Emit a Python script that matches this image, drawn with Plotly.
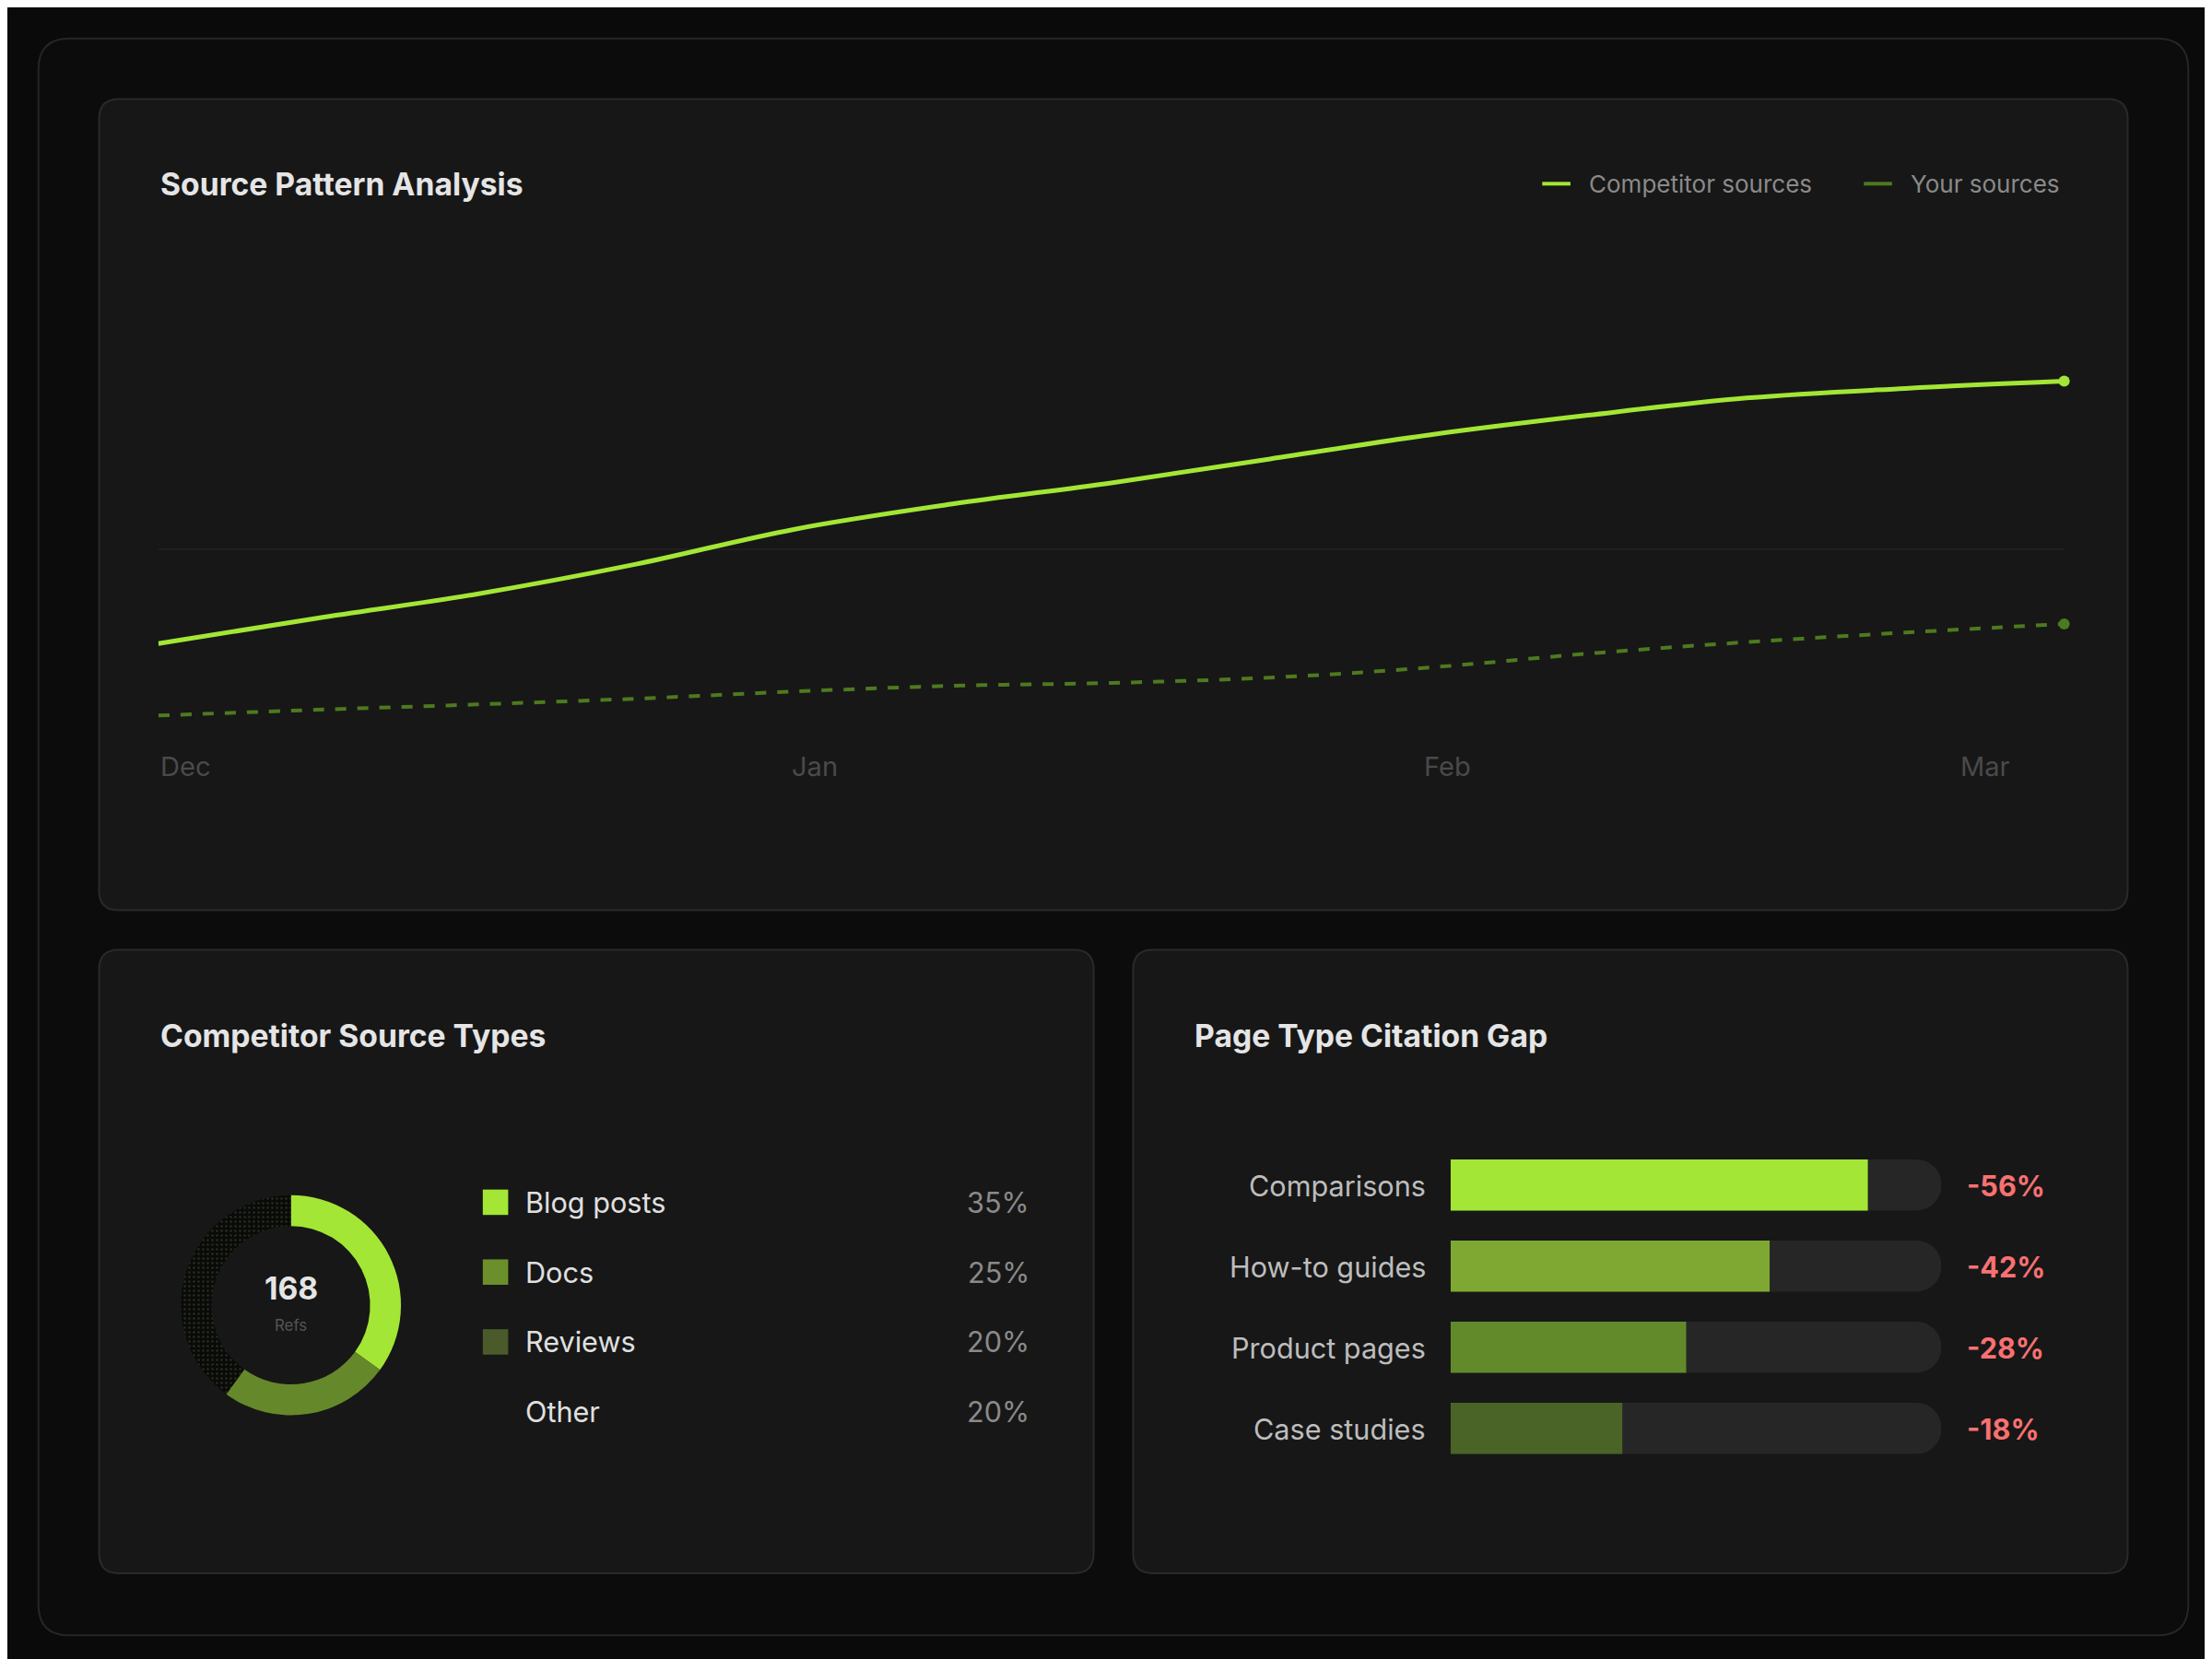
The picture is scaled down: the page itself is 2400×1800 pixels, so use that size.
import plotly.graph_objects as go

S = 2400/1568
W, H = 2400, 1800

# ---- data ----
line_x = list(range(13))
competitor = [20.3, 25.6, 30.6, 36.8, 44.1, 49.4, 53.8, 58.8, 63.8, 67.9, 71.5, 73.5, 75.0]
yours = [5.3, 6.5, 7.6, 8.8, 10.3, 11.5, 12.1, 13.2, 15.3, 18.2, 20.6, 22.6, 24.4]
month_labels = ["Dec", "Jan", "Feb", "Mar"]
month_pos = [107, 572, 1021, 1421]  # displayed px, label anchor

src_types = ["Blog posts", "Docs", "Reviews", "Other"]
src_pct = [35, 25, 20, 20]
total_refs = 168

page_types = ["Comparisons", "How-to guides", "Product pages", "Case studies"]
page_fill = [85, 65, 48, 35]
page_gap = ["-56%", "-42%", "-28%", "-18%"]

FONT = "Inter"
def px(v): return v*S/W
def py(v): return 1 - v*S/H

fig = go.Figure()
shapes = []
ann = []

def rrect(x0, y0, x1, y1, r, fill, line):
    X = lambda v: v*S/W
    Y = lambda v: 1 - v*S/H
    rx, ry = r*S/W, r*S/H
    a, b, c, d = X(x0), Y(y0), X(x1), Y(y1)
    path = (f"M{a+rx},{b} L{c-rx},{b} Q{c},{b} {c},{b-ry} "
            f"L{c},{d+ry} Q{c},{d} {c-rx},{d} L{a+rx},{d} "
            f"Q{a},{d} {a},{d+ry} L{a},{b-ry} Q{a},{b} {a+rx},{b} Z")
    shapes.append(dict(type="path", path=path, xref="paper", yref="paper",
                       fillcolor=fill, line=dict(color=line, width=2), layer="below"))

rrect(22, 22, 1546, 1154, 22, "#0c0c0c", "#262626")
rrect(65, 65, 1503, 640, 14, "#171717", "#2a2a2a")
rrect(65, 668, 770, 1110, 14, "#171717", "#2a2a2a")
rrect(798, 668, 1503, 1110, 14, "#171717", "#2a2a2a")

def text(x, y, t, size, color, anchor="left", bold=False):
    ann.append(dict(x=px(x), y=py(y), xref="paper", yref="paper", text=f"<b>{t}</b>" if bold else t,
                    showarrow=False, xanchor=anchor, yanchor="middle",
                    font=dict(family=FONT, size=size*S, color=color)))

# ---- line chart ----
text(107, 125, "Source Pattern Analysis", 22, "#e5e5e5", bold=True)
shapes.append(dict(type="line", xref="paper", yref="paper", x0=px(1088), x1=px(1108), y0=py(125), y1=py(125),
                   line=dict(color="#a3e635", width=4)))
text(1120, 125, "Competitor sources", 17, "#8a8a8a")
shapes.append(dict(type="line", xref="paper", yref="paper", x0=px(1316), x1=px(1336), y0=py(125), y1=py(125),
                   line=dict(color="#4d7a1f", width=4)))
text(1348, 125, "Your sources", 17, "#8a8a8a")
for lab, p in zip(month_labels, month_pos):
    text(p, 538, lab, 19, "#4a4a4a", anchor="right" if lab == "Mar" else ("left" if lab == "Dec" else "center"))

fig.add_trace(go.Scatter(x=line_x, y=yours, mode="lines", line=dict(color="#4d7a1f", width=4, dash="dash", shape="spline"),
                         showlegend=False, hoverinfo="skip"))
fig.add_trace(go.Scatter(x=line_x, y=competitor, mode="lines", line=dict(color="#a3e635", width=5, shape="spline"),
                         showlegend=False, hoverinfo="skip"))
fig.add_trace(go.Scatter(x=[line_x[-1], line_x[-1]], y=[competitor[-1], yours[-1]], mode="markers",
                         marker=dict(color=["#a3e635", "#4d7a1f"], size=12), showlegend=False, hoverinfo="skip",
                         cliponaxis=False))
fig.update_layout(
    xaxis=dict(domain=[px(107), px(1458)], range=[0, 12], visible=False, fixedrange=True),
    yaxis=dict(domain=[py(520), py(180)], range=[0, 100], tickvals=[40], showticklabels=False,
               gridcolor="#1f1f1f", gridwidth=2, zeroline=False, showline=False, fixedrange=True))

# ---- donut ----
text(107, 729, "Competitor Source Types", 22, "#e5e5e5", bold=True)
r = 78
fig.add_trace(go.Pie(labels=src_types, values=src_pct, hole=0.72, sort=False, direction="clockwise", rotation=0,
                     marker=dict(colors=["#a3e635", "#65892a", "#3f5a1f", "#2c3a1b"],
                                 line=dict(width=0),
                                 pattern=dict(shape=["", "", ".", "."], fgcolor="#24301a", size=5, solidity=0.2)),
                     textinfo="none", showlegend=False, hoverinfo="skip",
                     domain=dict(x=[px(201-r), px(201+r)], y=[py(920+r), py(920-r)])))
text(201, 908, str(total_refs), 22, "#e5e5e5", anchor="center", bold=True)
text(201, 934, "Refs", 11, "#555555", anchor="center")
sq_cols = ["#a3e635", "#6b8f2b", "#4a5a2a", None]
for i, (lab, p, c) in enumerate(zip(src_types, src_pct, sq_cols)):
    yc = 847 + i*49.5
    if c:
        shapes.append(dict(type="rect", xref="paper", yref="paper", x0=px(337), x1=px(355), y0=py(yc-9), y1=py(yc+9),
                           fillcolor=c, line=dict(width=0)))
    text(366, yc, lab, 20, "#e0e0e0")
    text(726, yc, f"{p}%", 20, "#8a8a8a", anchor="right")

# ---- bars ----
text(840, 729, "Page Type Citation Gap", 22, "#e5e5e5", bold=True)
bar_cols = ["#a3e635", "#7fa832", "#628a2a", "#4a6326"]
fig.add_trace(go.Bar(x=[100]*4, y=page_types, orientation="h", marker=dict(color="#262626", line=dict(width=0)),
                     width=0.63, xaxis="x2", yaxis="y2", showlegend=False, hoverinfo="skip"))
fig.add_trace(go.Bar(x=page_fill, y=page_types, orientation="h", marker=dict(color=bar_cols, line=dict(width=0)),
                     width=0.63, xaxis="x2", yaxis="y2", showlegend=False, hoverinfo="skip"))
fig.update_layout(
    barmode="overlay", barcornerradius=28,
    xaxis2=dict(domain=[px(1023), px(1371)], range=[0, 100], visible=False, fixedrange=True),
    yaxis2=dict(domain=[py(1036), py(806)], categoryorder="array", categoryarray=page_types[::-1],
                visible=False, fixedrange=True, anchor="x2"))
for i, (lab, g) in enumerate(zip(page_types, page_gap)):
    yc = 835 + i*57.5
    text(1007, yc, lab, 20, "#bdbdbd", anchor="right")
    text(1388, yc, g, 20, "#f87171", bold=True)

fig.update_layout(width=W, height=H, margin=dict(l=0, r=0, t=0, b=0),
                  paper_bgcolor="#0a0a0a", plot_bgcolor="rgba(0,0,0,0)",
                  shapes=shapes, annotations=ann, font=dict(family=FONT))
fig.write_html("out.html")
